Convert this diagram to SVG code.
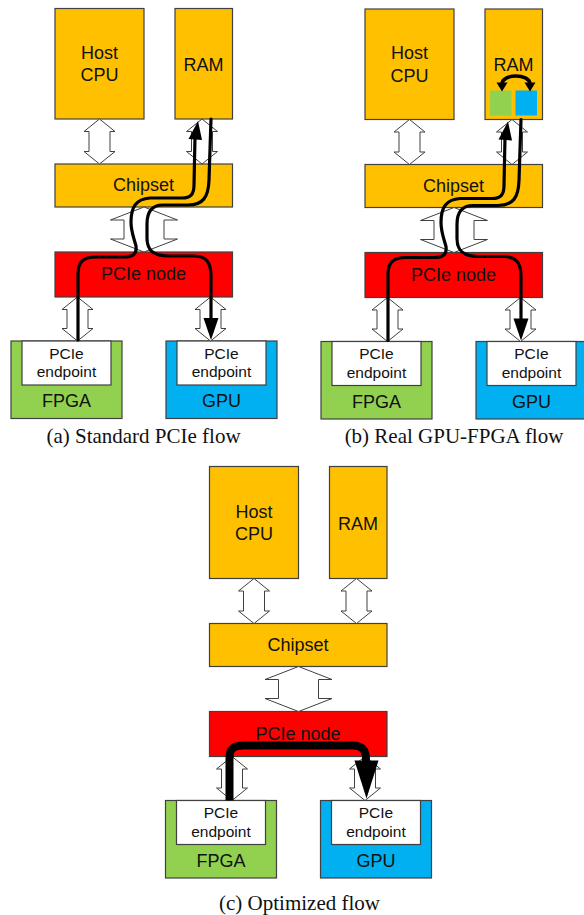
<svg xmlns="http://www.w3.org/2000/svg" width="584" height="915" viewBox="0 0 584 915">
<style>
.bg{fill:#ffffff}
.org{fill:#FFC000;stroke:#404040;stroke-width:1.2}
.red{fill:#FF0000;stroke:#404040;stroke-width:1.2}
.grn{fill:#92D050;stroke:#404040;stroke-width:1.2}
.blu{fill:#00B0F0;stroke:#404040;stroke-width:1.2}
.wht{fill:#ffffff;stroke:#404040;stroke-width:1.2}
.dar{fill:#ffffff;stroke:#404040;stroke-width:1}
.lbl{font-family:"Liberation Sans",Arial,sans-serif;font-size:18px;fill:#111;text-anchor:middle}
.sm{font-family:"Liberation Sans",Arial,sans-serif;font-size:15.5px;fill:#111;text-anchor:middle}
.cap{font-family:"Liberation Serif","Times New Roman",serif;font-size:21px;fill:#111;text-anchor:middle}
.flow{fill:none;stroke:#000;stroke-width:3.2;stroke-linecap:round;stroke-linejoin:round}
.thick{fill:none;stroke:#000;stroke-width:8;stroke-linejoin:round}
.hd{fill:#000}
</style>
<rect class="bg" x="0" y="0" width="584" height="915"/>

<!-- Panel (a) -->
<g id="panel-a">
  <g id="a-host-cpu"><rect class="org" x="55" y="8.5" width="89" height="110.5"/><text class="lbl" x="99.5" y="58.5">Host</text><text class="lbl" x="99.5" y="81">CPU</text></g>
  <g id="a-ram"><rect class="org" x="175" y="8.5" width="57.5" height="110.5"/><text class="lbl" x="203.5" y="70.5">RAM</text></g>
  <g id="a-chipset"><rect class="org" x="55" y="164" width="177.5" height="43"/><text class="lbl" x="143.5" y="191">Chipset</text></g>
  <g id="a-pcie-node"><rect class="red" x="55" y="252" width="177.5" height="45"/><text class="lbl" x="143.5" y="280">PCIe node</text></g>
  <g id="a-fpga"><rect class="grn" x="11" y="341" width="111" height="77.5"/><rect class="wht" x="22" y="341" width="89" height="44"/><text class="sm" x="66.5" y="358.5">PCIe</text><text class="sm" x="66.5" y="377">endpoint</text><text class="lbl" x="66.5" y="407">FPGA</text></g>
  <g id="a-gpu"><rect class="blu" x="166" y="341" width="111" height="77.5"/><rect class="wht" x="177" y="341" width="89" height="44"/><text class="sm" x="221.5" y="358.5">PCIe</text><text class="sm" x="221.5" y="377">endpoint</text><text class="lbl" x="221.5" y="407">GPU</text></g>
  <g id="a-connectors">
    <path class="dar" d="M99.5 119 L115 131.5 L110 131.5 L110 151.5 L115 151.5 L99.5 164 L84 151.5 L89 151.5 L89 131.5 L84 131.5 Z"/>
    <path class="dar" d="M202 119 L217.5 131.5 L212.5 131.5 L212.5 151.5 L217.5 151.5 L202 164 L186.5 151.5 L191.5 151.5 L191.5 131.5 L186.5 131.5 Z"/>
    <path class="dar" d="M144 207 L177.5 220 L164 220 L164 239 L177.5 239 L144 252 L110.5 239 L124 239 L124 220 L110.5 220 Z"/>
    <path class="dar" d="M77.5 297 L93 309.5 L88 309.5 L88 328.5 L93 328.5 L77.5 341 L62 328.5 L67 328.5 L67 309.5 L62 309.5 Z"/>
    <path class="dar" d="M210.5 297 L226 309.5 L221 309.5 L221 328.5 L226 328.5 L210.5 341 L195 328.5 L200 328.5 L200 309.5 L195 309.5 Z"/>
    <path class="flow" d="M78 340 L78 274 C78 262 83 257 96 257 L124 257 C133 257 137 254 136 246 C134 238 131 232 131 222 C131 207 136 199 150 198 L182 198 C191 198 194 194 194 185 L195 137"/>
    <polygon class="hd" points="198,121 202,140 188.5,139"/>
    <path class="flow" d="M211 119 L209 180 C208.5 197 203 205 188 205 L163 205 C152 205 147 212 147 224 L147 238 C147 250 153 256 168 256 L194 256 C206 256 211 262 211 276 L211 320"/>
    <polygon class="hd" points="203.5,318 218.5,318 211,340"/>
  </g>
  <text class="cap" x="143.5" y="443">(a) Standard PCIe flow</text>
</g>

<!-- Panel (b) -->
<g id="panel-b" transform="translate(310,0.5)">
  <g id="b-host-cpu"><rect class="org" x="55" y="8.5" width="89" height="110.5"/><text class="lbl" x="99.5" y="58.5">Host</text><text class="lbl" x="99.5" y="81">CPU</text></g>
  <g id="b-ram"><rect class="org" x="175" y="8.5" width="57.5" height="110.5"/><text class="lbl" x="203.5" y="70.5">RAM</text>
    <rect x="180" y="90" width="21.5" height="25" fill="#92D050"/><rect x="205.5" y="90" width="21.5" height="25" fill="#00B0F0"/>
    <path d="M192 83 C193 73 219 73 220 83" fill="none" stroke="#000" stroke-width="3.5"/>
    <polygon class="hd" points="186.5,82 197.5,82 192,91"/>
    <polygon class="hd" points="214.5,82 225.5,82 220,91"/>
  </g>
  <g id="b-chipset"><rect class="org" x="55" y="164" width="177.5" height="43"/><text class="lbl" x="143.5" y="191">Chipset</text></g>
  <g id="b-pcie-node"><rect class="red" x="55" y="252" width="177.5" height="45"/><text class="lbl" x="143.5" y="280">PCIe node</text></g>
  <g id="b-fpga"><rect class="grn" x="11" y="341" width="111" height="77.5"/><rect class="wht" x="22" y="341" width="89" height="44"/><text class="sm" x="66.5" y="358.5">PCIe</text><text class="sm" x="66.5" y="377">endpoint</text><text class="lbl" x="66.5" y="407">FPGA</text></g>
  <g id="b-gpu"><rect class="blu" x="166" y="341" width="111" height="77.5"/><rect class="wht" x="177" y="341" width="89" height="44"/><text class="sm" x="221.5" y="358.5">PCIe</text><text class="sm" x="221.5" y="377">endpoint</text><text class="lbl" x="221.5" y="407">GPU</text></g>
  <g id="b-connectors">
    <path class="dar" d="M99.5 119 L115 131.5 L110 131.5 L110 151.5 L115 151.5 L99.5 164 L84 151.5 L89 151.5 L89 131.5 L84 131.5 Z"/>
    <path class="dar" d="M202 119 L217.5 131.5 L212.5 131.5 L212.5 151.5 L217.5 151.5 L202 164 L186.5 151.5 L191.5 151.5 L191.5 131.5 L186.5 131.5 Z"/>
    <path class="dar" d="M144 207 L177.5 220 L164 220 L164 239 L177.5 239 L144 252 L110.5 239 L124 239 L124 220 L110.5 220 Z"/>
    <path class="dar" d="M77.5 297 L93 309.5 L88 309.5 L88 328.5 L93 328.5 L77.5 341 L62 328.5 L67 328.5 L67 309.5 L62 309.5 Z"/>
    <path class="dar" d="M210.5 297 L226 309.5 L221 309.5 L221 328.5 L226 328.5 L210.5 341 L195 328.5 L200 328.5 L200 309.5 L195 309.5 Z"/>
    <path class="flow" d="M78 340 L78 274 C78 262 83 257 96 257 L124 257 C133 257 137 254 136 246 C134 238 131 232 131 222 C131 207 136 199 150 198 L182 198 C191 198 194 194 194 185 L195 137"/>
    <polygon class="hd" points="198,121 202,140 188.5,139"/>
    <path class="flow" d="M211 119 L209 180 C208.5 197 203 205 188 205 L163 205 C152 205 147 212 147 224 L147 238 C147 250 153 256 168 256 L194 256 C206 256 211 262 211 276 L211 320"/>
    <polygon class="hd" points="203.5,318 218.5,318 211,340"/>
  </g>
  <text class="cap" x="144" y="442.5">(b) Real GPU-FPGA flow</text>
</g>

<!-- Panel (c) -->
<g id="panel-c" transform="translate(154.5,459.5)">
  <g id="c-host-cpu"><rect class="org" x="55" y="7" width="89" height="112"/><text class="lbl" x="99.5" y="58">Host</text><text class="lbl" x="99.5" y="80.5">CPU</text></g>
  <g id="c-ram"><rect class="org" x="175" y="7" width="57.5" height="112"/><text class="lbl" x="203.5" y="70">RAM</text></g>
  <g id="c-chipset"><rect class="org" x="55" y="164" width="177.5" height="43"/><text class="lbl" x="143.5" y="191">Chipset</text></g>
  <g id="c-pcie-node"><rect class="red" x="55" y="252" width="177.5" height="45"/><text class="lbl" x="143.5" y="280">PCIe node</text></g>
  <g id="c-fpga"><rect class="grn" x="11" y="341" width="111" height="77.5"/><rect class="wht" x="22" y="341" width="89" height="44"/><text class="sm" x="66.5" y="358.5">PCIe</text><text class="sm" x="66.5" y="377">endpoint</text><text class="lbl" x="66.5" y="407">FPGA</text></g>
  <g id="c-gpu"><rect class="blu" x="166" y="341" width="111" height="77.5"/><rect class="wht" x="177" y="341" width="89" height="44"/><text class="sm" x="221.5" y="358.5">PCIe</text><text class="sm" x="221.5" y="377">endpoint</text><text class="lbl" x="221.5" y="407">GPU</text></g>
  <g id="c-connectors">
    <path class="dar" d="M99.5 119 L115 131.5 L110 131.5 L110 151.5 L115 151.5 L99.5 164 L84 151.5 L89 151.5 L89 131.5 L84 131.5 Z"/>
    <path class="dar" d="M202 119 L217.5 131.5 L212.5 131.5 L212.5 151.5 L217.5 151.5 L202 164 L186.5 151.5 L191.5 151.5 L191.5 131.5 L186.5 131.5 Z"/>
    <path class="dar" d="M144 207 L177.5 220 L164 220 L164 239 L177.5 239 L144 252 L110.5 239 L124 239 L124 220 L110.5 220 Z"/>
    <path class="dar" d="M77.5 297 L93 309.5 L88 309.5 L88 328.5 L93 328.5 L77.5 341 L62 328.5 L67 328.5 L67 309.5 L62 309.5 Z"/>
    <path class="dar" d="M210.5 297 L226 309.5 L221 309.5 L221 328.5 L226 328.5 L210.5 341 L195 328.5 L200 328.5 L200 309.5 L195 309.5 Z"/>
    <path class="thick" d="M75 341 L75 299 C75 289 79 286 89 286 L198 286 C207 286 211.5 290 211.5 300 L211.5 306"/>
    <polygon class="hd" points="200,301 224,301 212,339"/>
  </g>
  <text class="cap" x="145" y="450.5">(c) Optimized flow</text>
</g>
</svg>
